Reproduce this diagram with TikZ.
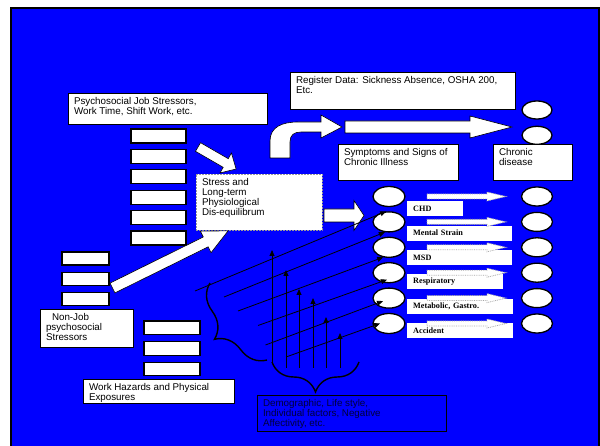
\documentclass[tikz,border=0pt]{standalone}
\usepackage{fontspec}
\setmainfont{Liberation Sans}
\newfontfamily\tagfont{Liberation Serif}
\usetikzlibrary{arrows.meta, positioning, shapes.geometric, decorations.pathreplacing, calc}

\definecolor{slideblue}{RGB}{0,0,255}
\definecolor{navytext}{RGB}{0,0,60}
\newcommand{\boxfont}{\fontsize{9.8}{10}\selectfont}

\begin{document}
\begin{tikzpicture}[
    x=1pt, y=-1pt,
    txtbox/.style={rectangle, draw=black, line width=0.6pt, fill=white, anchor=north west, inner xsep=6pt, inner ysep=4.5pt, font=\boxfont, outer sep=0pt},
    slot/.style={rectangle, draw=black, line width=1.2pt, fill=white, minimum width=55pt, minimum height=14pt, inner sep=0pt},
    blob/.style={ellipse, draw=black, line width=1.3pt, fill=white, minimum width=32pt, minimum height=20pt, inner sep=0pt},
    tag/.style={rectangle, fill=white, anchor=north west, minimum height=15pt, inner xsep=6pt, inner ysep=0pt, align=left, font=\tagfont\bfseries\fontsize{8.2}{9}\selectfont},
    ray/.style={-{Triangle[length=6pt, width=5pt]}, line width=0.8pt},
    curly/.style={decorate, decoration={brace, amplitude=30pt}, line width=1.4pt},
    fat/.style={draw=black, fill=white, line width=0.6pt},
    ghost/.style={draw=gray!70, fill=white, densely dotted, line width=0.8pt},
    pics/fatarrow/.style n args={4}{code={
        \path[pic actions] (0,-#2) -- (#1-#4,-#2) -- (#1-#4,-#3) -- (#1,0) -- (#1-#4,#3) -- (#1-#4,#2) -- (0,#2) -- cycle;
    }}
]
    \useasboundingbox (0,0) rectangle (600,446);
    \fill[white] (0,0) rectangle (600,446);
    \begin{scope}
        \clip (0,0) rectangle (600,446);
        \draw[fill=slideblue, line width=2pt] (11,8) rectangle (599,460);
    \end{scope}

    % top row
    \draw[fat] (270,158) -- (270,141) .. controls (270,127) and (282,122) .. (298,122) -- (321,122) -- (321,115) -- (342,127) -- (321,138) -- (321,132) -- (301,132) .. controls (294,132) and (290,135) .. (290,142) -- (290,158) -- cycle;
    \pic[fat] at (345,127) {fatarrow={167}{6}{11}{42}};

    \node[txtbox] (psy) at (68,93) {\parbox[t][22pt][t]{187pt}{\raggedright Psychosocial Job Stressors,\\ Work Time, Shift Work, etc.}};
    \node[txtbox] (reg) at (290,72) {\parbox[t][28pt][t]{213pt}{\raggedright Register Data: Sickness Absence, OSHA 200,\\ Etc.}};
    \node[txtbox] (sympt) at (338,144) {\parbox[t][27pt][t]{108pt}{\raggedright Symptoms and Signs of\\ Chronic Illness}};
    \node[txtbox] (chron) at (493,144) {\parbox[t][27pt][t]{67pt}{\raggedright Chronic\\ disease}};
    \node[blob, minimum width=30pt, minimum height=18pt] (T1) at (537,110) {};
    \node[blob, minimum width=30pt, minimum height=18pt, below=6pt of T1] (T2) {};

    % job stressors
    \node[slot] (js1) at (158.5,136) {};
    \node[slot, below=5.2pt of js1] (js2) {};
    \node[slot, below=5.2pt of js2] (js3) {};
    \node[slot, below=5.2pt of js3] (js4) {};
    \node[slot, below=5.2pt of js4] (js5) {};
    \node[slot, below=5.2pt of js5] (js6) {};
    \pic[fat, rotate=-30] at (198,147) {fatarrow={44}{5}{11.5}{12}};

    \node[txtbox, draw=gray!80, dash pattern=on 2pt off 1pt] (stress) at (196,174) {\parbox[t][47pt][t]{114pt}{\raggedright Stress and\\ Long-term\\ Physiological\\ Dis-equilibrum}};
    \pic[fat] at (324,215.5) {fatarrow={40}{6.5}{15}{10}};

    % non-job stressors
    \node[slot, minimum width=47pt, minimum height=13pt] (nj1) at (85.5,258.5) {};
    \node[slot, minimum width=47pt, minimum height=13pt, below=6pt of nj1] (nj2) {};
    \node[slot, minimum width=47pt, minimum height=13pt, below=6pt of nj2] (nj3) {};
    \node[txtbox] (nonjob) at (40,309) {\parbox[t][29pt][t]{81pt}{\raggedright\hspace*{6pt}Non-Job\\ psychosocial\\ Stressors}};
    \pic[fat, rotate=26.3] at (112.5,288) {fatarrow={129}{5.5}{12}{25}};

    % work hazards
    \node[slot, minimum width=56pt, minimum height=13.5pt] (hz1) at (172,327.75) {};
    \node[slot, minimum width=56pt, minimum height=13.5pt, below=6pt of hz1] (hz2) {};
    \node[slot, minimum width=56pt, minimum height=13.5pt, below=6pt of hz2] (hz3) {};
    \node[txtbox] (hazard) at (83,379) {\parbox[t][15pt][t]{139pt}{\raggedright Work Hazards and Physical\\ Exposures}};

    % outcomes
    \node[blob] (L1) at (389,196.5) {};
    \node[blob, below=4.1pt of L1] (L2) {};
    \node[blob, below=4.1pt of L2] (L3) {};
    \node[blob, below=4.1pt of L3] (L4) {};
    \node[blob, below=4.1pt of L4] (L5) {};
    \node[blob, below=4.1pt of L5] (L6) {};
    \node[blob, minimum width=31pt, minimum height=19pt] (R1) at (537,196.5) {};
    \node[blob, minimum width=31pt, minimum height=19pt, below=5.1pt of R1] (R2) {};
    \node[blob, minimum width=31pt, minimum height=19pt, below=5.1pt of R2] (R3) {};
    \node[blob, minimum width=31pt, minimum height=19pt, below=5.1pt of R3] (R4) {};
    \node[blob, minimum width=31pt, minimum height=19pt, below=5.1pt of R4] (R5) {};
    \node[blob, minimum width=31pt, minimum height=19pt, below=5.1pt of R5] (R6) {};

    \node[tag, text width=44pt] (chd) at (407,201) {CHD};
    \node[tag, text width=93pt, below=9pt of chd.south west, anchor=north west] (ment) {Mental Strain};
    \node[tag, text width=93pt, below=9pt of ment.south west, anchor=north west] (msd) {MSD};
    \node[tag, text width=84pt, below=9pt of msd.south west, anchor=north west] (resp) {Respiratory};
    \node[tag, text width=94pt, below=9pt of resp.south west, anchor=north west] (metab) {Metabolic, Gastro.};
    \node[tag, text width=94pt, below=9pt of metab.south west, anchor=north west] (accid) {Accident};

    \pic[ghost] at ($(L1)+(38,0)$) {fatarrow={79}{2.5}{4.5}{19}};
    \pic[ghost] at ($(L2)+(38,0)$) {fatarrow={79}{2.5}{4.5}{19}};
    \pic[ghost] at ($(L3)+(38,0)$) {fatarrow={79}{2.5}{4.5}{19}};
    \pic[ghost] at ($(L4)+(38,0)$) {fatarrow={79}{2.5}{4.5}{19}};
    \pic[ghost] at ($(L5)+(38,0)$) {fatarrow={79}{2.5}{4.5}{19}};
    \pic[ghost] at ($(L6)+(38,0)$) {fatarrow={79}{2.5}{4.5}{19}};

    % exposures into outcomes
    \draw[ray] (195,291) coordinate (s1) -- (L2.105);
    \draw[ray] (224,297) coordinate (s2) -- (L2.248);
    \draw[ray] (238,311) coordinate (s3) -- (L3.240);
    \draw[ray] (258,325.5) coordinate (s4) -- ($(L4)+(-2,7)$);
    \draw[ray] (265.5,345) coordinate (s5) -- ($(L5)+(-6,3)$);
    \draw[ray] (286,357) coordinate (s6) -- ($(L6)+(-9,0)$);

    \draw[ray] (272,362) coordinate (v1) -- (272,250);
    \draw[ray] (286,368) coordinate (v2) -- (286,270);
    \draw[ray] (299,368) coordinate (v3) -- (299,289);
    \draw[ray] (313,368) coordinate (v4) -- (313,298);
    \draw[ray] (326,368) coordinate (v5) -- (326,317);
    \draw[ray] (340,368) coordinate (v6) -- (340,333);

    \draw[curly] (359,362) coordinate (bR) -- (272,362) coordinate (bL);
    \draw[curly] (267,360) coordinate (cB) -- (210,283) coordinate (cT);

    \node[txtbox, fill=slideblue, text=navytext] (demog) at (257,395) {\parbox[t][27pt][t]{177pt}{\raggedright Demographic, Life style,\\ Individual factors, Negative\\ Affectivity, etc.}};
\end{tikzpicture}
\end{document}
